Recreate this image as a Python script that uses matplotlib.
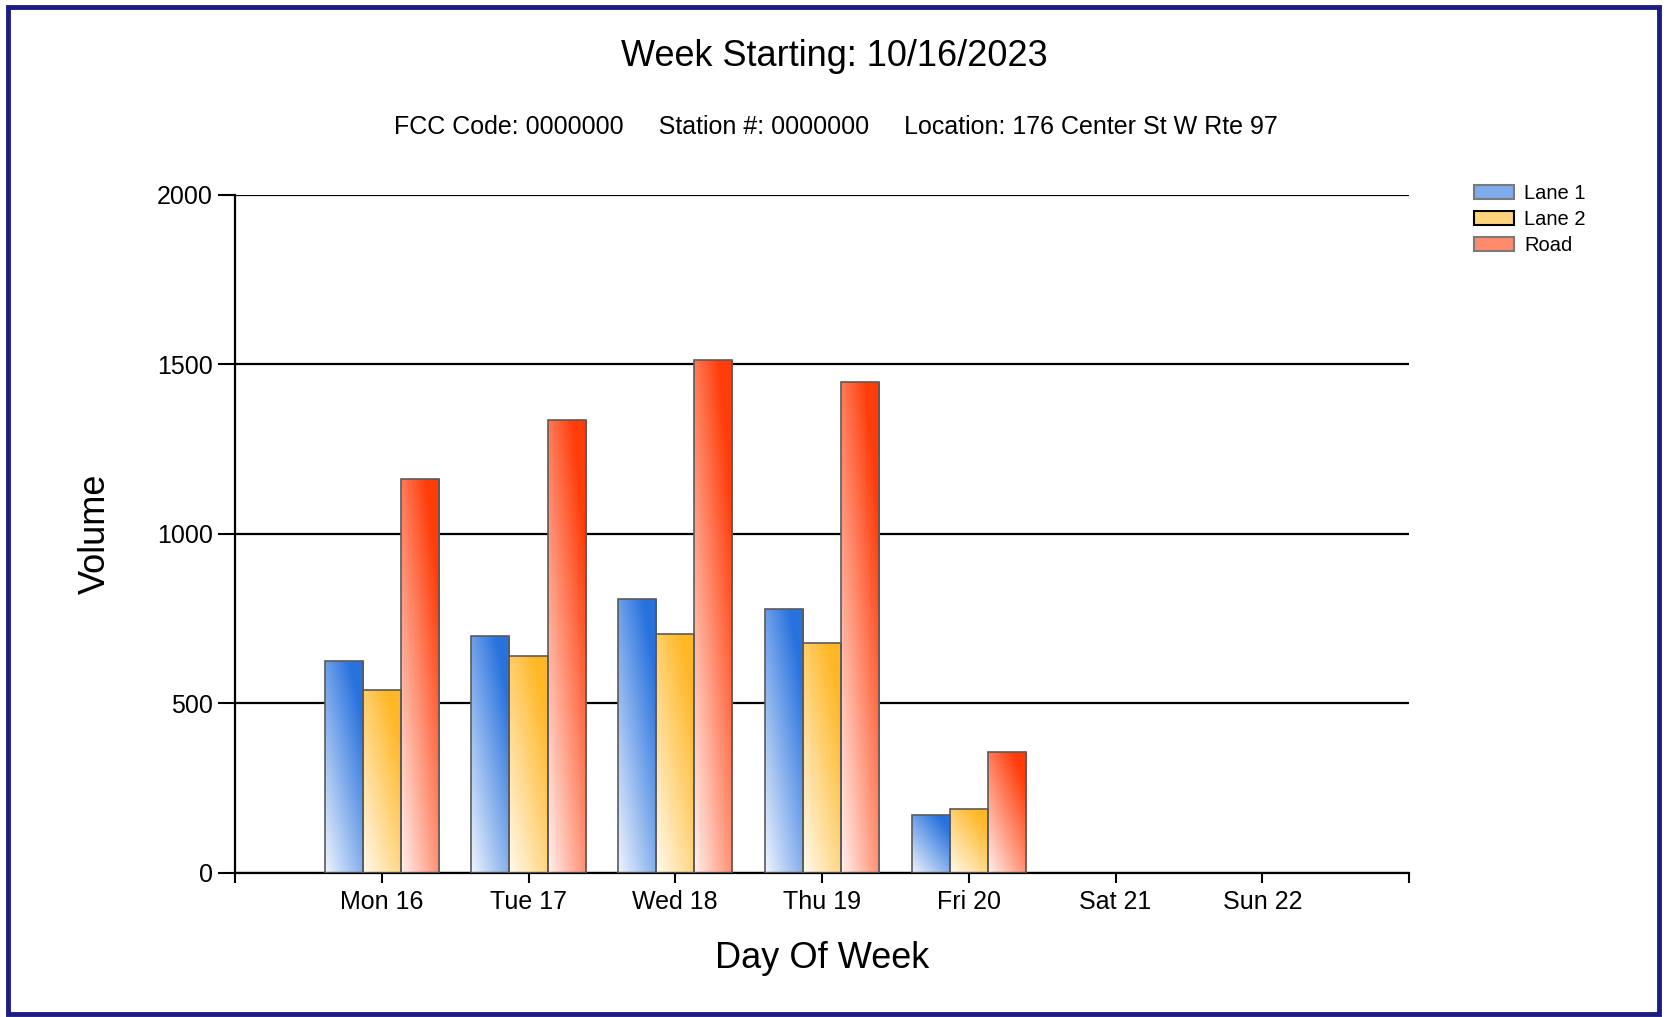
import numpy as np
import matplotlib
matplotlib.use("Agg")
import matplotlib.pyplot as plt
from matplotlib.patches import Rectangle, Patch

plt.rcParams['font.family'] = ['Liberation Sans', 'DejaVu Sans']

# ---- data ----
days = ["Mon 16", "Tue 17", "Wed 18", "Thu 19", "Fri 20", "Sat 21", "Sun 22"]
lane1 = [624, 699, 809, 777, 172, 0, 0]
lane2 = [539, 640, 705, 677, 188, 0, 0]
road = [1160, 1335, 1511, 1448, 357, 0, 0]
series_names = ["Lane 1", "Lane 2", "Road"]
y_ticks = [0, 500, 1000, 1500, 2000]
title = "Week Starting: 10/16/2023"
subtitle = "FCC Code: 0000000     Station #: 0000000     Location: 176 Center St W Rte 97"

base_colors = [(0.16, 0.45, 0.87), (1.0, 0.72, 0.15), (1.0, 0.24, 0.04)]

W, H = 1667, 1017
fig = plt.figure(figsize=(W / 100, H / 100), dpi=100)
ax = fig.add_axes([235 / W, 1 - 873 / H, (1409 - 235) / W, (873 - 194.5) / H])

x = np.arange(len(days))
bw = 0.26
offsets = [-bw, 0, bw]


def gradient_img(color, n=64):
    xf = np.linspace(0, 1, n)[None, :]
    yf = np.linspace(0, 1, n)[:, None]
    t = np.clip(0.08 + 0.5 * xf + 0.6 * yf, 0, 1)
    c = np.array(color)[None, None, :]
    img = 1 - t[..., None] * (1 - c)
    return img


for vals, off, col in zip([lane1, lane2, road], offsets, base_colors):
    vals = np.asarray(vals, dtype=float)
    keep = vals > 0
    bars = ax.bar(x[keep] + off, vals[keep], width=bw, facecolor='none',
                  edgecolor='#5a5a5a', linewidth=1.2, zorder=3)
    img = gradient_img(col)
    for b, v in zip(bars, vals[keep]):
        x0 = b.get_x()
        im = ax.imshow(img, extent=(x0, x0 + b.get_width(), 0, v), origin='lower',
                       aspect='auto', zorder=2.5, interpolation='bilinear')
        im.set_clip_path(b)

ax.set_xlim(-1, 7)
ax.set_ylim(0, 2000)
ax.set_yticks(y_ticks)
ax.set_yticklabels([str(v) for v in y_ticks], fontsize=18)
ax.set_xticks(list(x) + [-1, 7])
ax.set_xticklabels(days + ["", ""], fontsize=18)
ax.tick_params(axis='x', length=7, width=1.5, pad=5, color='black')
ax.tick_params(axis='y', length=12, width=1.5, pad=4, color='black')

ax.grid(axis='y', color='black', linewidth=1.6, zorder=1)
ax.set_axisbelow(True)
for s in ['top', 'right']:
    ax.spines[s].set_visible(False)
ax.spines['left'].set_linewidth(1.6)
ax.spines['bottom'].set_linewidth(1.6)

ax.set_ylabel("Volume", fontsize=26, labelpad=32)
ax.set_xlabel("Day Of Week", fontsize=26, labelpad=20)

fig.text(834 / W, 1 - 56 / H, title, ha='center', va='center', fontsize=26)
fig.text(836 / W, 1 - 127 / H, subtitle, ha='center', va='center', fontsize=18)

handles = []
for name, col in zip(series_names, base_colors):
    light = tuple(1 - 0.6 * (1 - c) for c in col)
    ec = 'black' if name == "Lane 2" else '#7a7a7a'
    handles.append(Patch(facecolor=light, edgecolor=ec, linewidth=1.5, label=name))
fig.legend(handles=handles, loc='upper left', bbox_to_anchor=(1474 / W, 1 - 184 / H),
           frameon=False, fontsize=14.5, handlelength=2.0, handleheight=0.65,
           labelspacing=0.35, handletextpad=0.5, borderpad=0, borderaxespad=0)

# frame
fig.patches.append(Rectangle((8 / W, 3 / H), (W - 16) / W, (H - 10) / H,
                             transform=fig.transFigure, fill=False,
                             edgecolor='#1c1c82', linewidth=3.5))

fig.savefig("out.png", dpi=100, facecolor='white')
